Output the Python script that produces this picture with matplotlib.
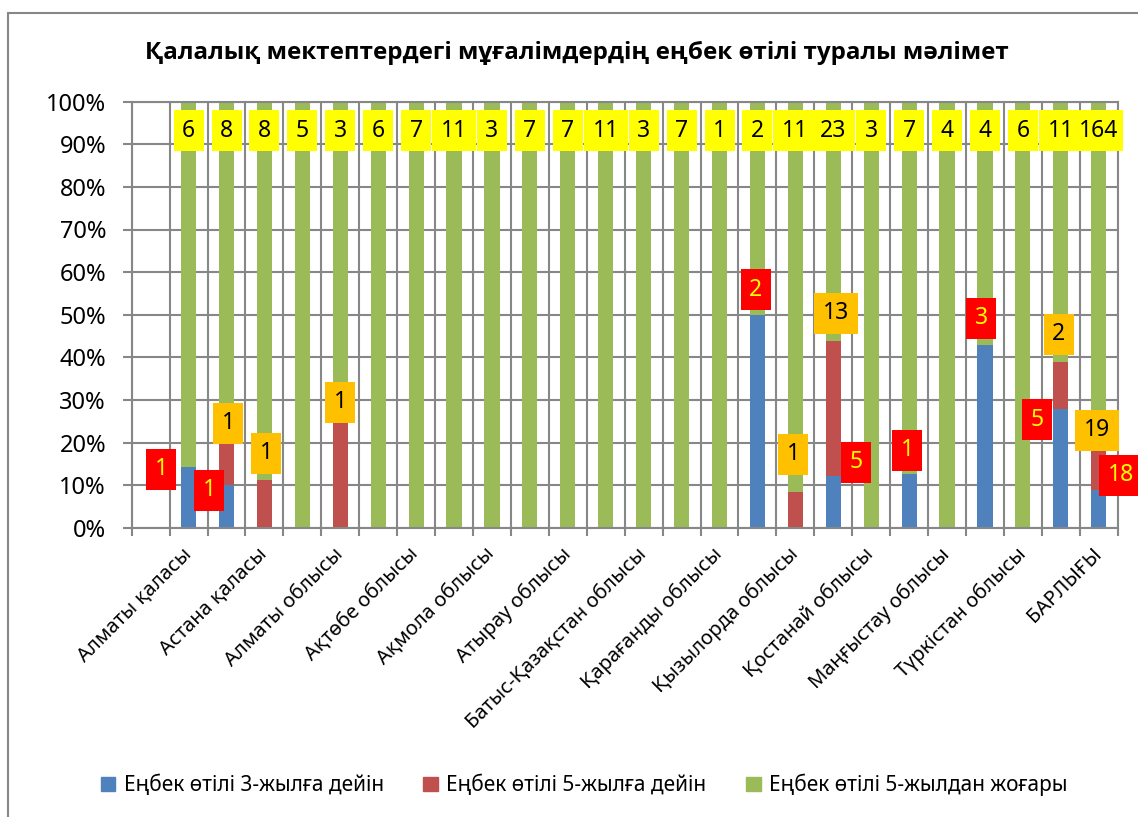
import numpy as np
import matplotlib.pyplot as plt
from matplotlib.patches import Rectangle, Patch

plt.rcParams['font.family'] = ['Noto Sans', 'DejaVu Sans']

# --- данные ---
regions = ["Алматы қаласы", "Астана қаласы", "Алматы облысы", "Ақтөбе облысы",
           "Ақмола облысы", "Атырау облысы", "Батыс-Қазақстан облысы",
           "Қарағанды облысы", "Қызылорда облысы", "Қостанай облысы",
           "Маңғыстау облысы", "Түркістан облысы", "БАРЛЫҒЫ"]

# 25 бағана (екі бағанаға бір атау), соңғысы - БАРЛЫҒЫ
up_to_3 = [1, 1, 0, 0, 0, 0, 0, 0, 0, 0, 0, 0, 0, 0, 0, 2, 0, 5, 0, 1, 0, 3, 0, 5, 18]
up_to_5 = [0, 1, 1, 0, 1, 0, 0, 0, 0, 0, 0, 0, 0, 0, 0, 0, 1, 13, 0, 0, 0, 0, 0, 2, 19]
over_5 = [6, 8, 8, 5, 3, 6, 7, 11, 3, 7, 7, 11, 3, 7, 1, 2, 11, 23, 3, 7, 4, 4, 6, 11, 164]

series_names = ["Еңбек өтілі 3-жылға дейін", "Еңбек өтілі 5-жылға дейін",
                "Еңбек өтілі 5-жылдан жоғары"]
title = "Қалалық мектептердегі мұғалімдердің еңбек өтілі туралы мәлімет"

# жазулардың орны: бағана ортасынан (dx), бөлік жоғарғы шетінен (dy, %)
off_up3 = {1: (-0.72, -0.6), 2: (-0.45, -1.2), 16: (-0.05, 5.8), 18: (0.61, 3.2),
           20: (-0.05, 5.7), 22: (-0.1, 6.3), 24: (-0.63, -2.4), 25: (0.58, 3.3)}
off_up5 = {2: (0.05, 4.5), 3: (0.05, 6.4), 5: (0.0, 4.4), 17: (-0.05, 8.9),
           18: (0.08, 6.4), 24: (-0.05, 6.5), 25: (-0.05, 4.5)}
green_label_y = 93.2

c_blue, c_red, c_green = "#4F81BD", "#C0504D", "#9BBB59"
grid_c = "#878787"

a = np.array(up_to_3, dtype=float)
b = np.array(up_to_5, dtype=float)
c = np.array(over_5, dtype=float)
tot = a + b + c
pa, pb, pc = a / tot * 100, b / tot * 100, c / tot * 100
x = np.arange(1, len(tot) + 1)
n_slots = len(tot) + 1

W, H = 1138, 817
fig = plt.figure(figsize=(W / 100, H / 100), dpi=100)
ax = fig.add_axes([131.7 / W, 1 - 527.7 / H, 986 / W, 426 / H])

ax.bar(x, pa, width=0.4, color=c_blue, zorder=2)
ax.bar(x, pb, width=0.4, bottom=pa, color=c_red, zorder=2)
ax.bar(x, pc, width=0.4, bottom=pa + pb, color=c_green, zorder=2)

ax.set_xlim(-0.5, n_slots - 0.5)
ax.set_ylim(0, 100)
ax.set_yticks(np.arange(0, 101, 10))
ax.set_yticklabels([f"{v}%" for v in range(0, 101, 10)], fontsize=17)
ax.set_xticks(np.arange(1, n_slots, 2))
ax.set_xticklabels(regions, fontsize=14.5)
ax.set_xticks(np.arange(-0.5, n_slots, 1), minor=True)
plt.setp(ax.get_xticklabels(), rotation=45, ha="right", va="center",
         rotation_mode="anchor")
ax.tick_params(axis="x", which="major", length=0, pad=17)
ax.tick_params(axis="x", which="minor", length=6, width=1.5, color=grid_c)
ax.tick_params(axis="y", length=6.5, width=1.5, color=grid_c, pad=12)
ax.grid(which="minor", axis="x", color=grid_c, lw=1.5, zorder=0)
ax.grid(which="major", axis="y", color=grid_c, lw=1.5, zorder=0)
ax.set_axisbelow(True)
for s in ax.spines.values():
    s.set_color(grid_c)
    s.set_linewidth(1.5)

# жазулар (қорапшалар)
slot_px = 986 / n_slots
pct_px = 426 / 100
box_w = {1: 30, 2: 44, 3: 49}


def box(xc, yc, txt, face, tc):
    w = box_w[len(txt)] / slot_px
    h = 41 / pct_px
    ax.add_patch(Rectangle((xc - w / 2, yc - h / 2), w, h, facecolor=face,
                           edgecolor="none", zorder=5, clip_on=False))
    ax.text(xc, yc, txt, ha="center", va="center", fontsize=16.5, color=tc,
            zorder=6, clip_on=False)


for i, xi in enumerate(x):
    box(xi, green_label_y, str(over_5[i]), "#FFFF00", "black")
for i, xi in enumerate(x):
    if up_to_5[i]:
        dx, dy = off_up5[xi]
        box(xi + dx, pa[i] + pb[i] + dy, str(up_to_5[i]), "#FFC000", "black")
for i, xi in enumerate(x):
    if up_to_3[i]:
        dx, dy = off_up3[xi]
        box(xi + dx, pa[i] + dy, str(up_to_3[i]), "#FF0000", "#FFFF00")

fig.text(577 / W, 1 - 53 / H, title, ha="center", va="center",
         fontsize=17.4, fontweight="bold", family=["Open Sans", "DejaVu Sans"])

handles = [Patch(color=c_blue), Patch(color=c_red), Patch(color=c_green)]
fig.legend(handles, series_names, loc="center", bbox_to_anchor=(584 / W, 1 - 785 / H),
           ncol=3, frameon=False, fontsize=15, handlelength=0.7, handleheight=0.7,
           handletextpad=0.4, columnspacing=1.9)

# диаграмма жиегі
fig.add_artist(Rectangle((8 / W, -0.1), 1.5, 1.1 - 12.7 / H, transform=fig.transFigure,
                         facecolor="none", edgecolor=grid_c, lw=1.5))

fig.savefig("out.png", dpi=100)
